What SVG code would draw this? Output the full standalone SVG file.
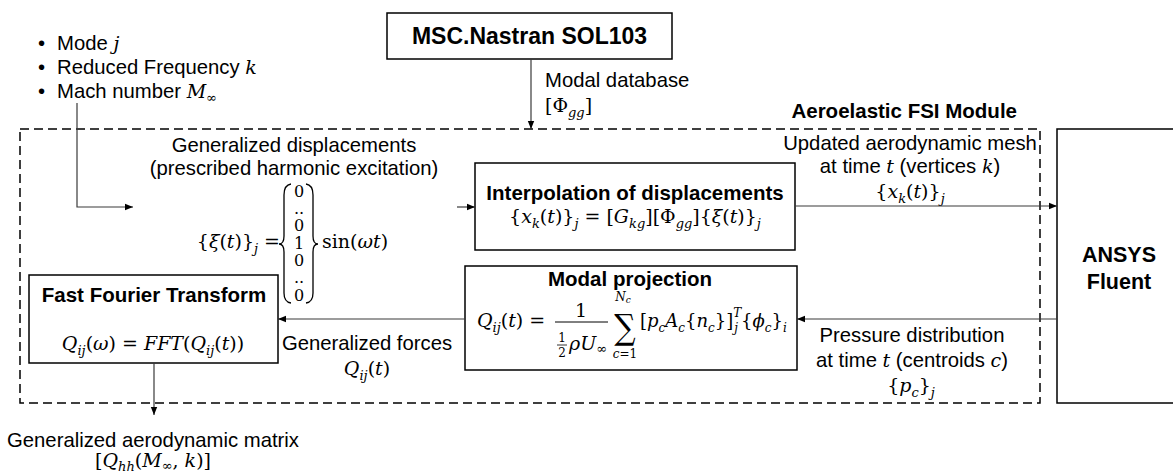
<svg xmlns="http://www.w3.org/2000/svg" width="1173" height="475" viewBox="0 0 1173 475">
<style>
.t{font-family:"Liberation Sans",Arial,sans-serif;font-size:20.3px;fill:#000}
.b{font-family:"Liberation Sans",Arial,sans-serif;font-size:20.5px;font-weight:bold;fill:#000}
.m{font-family:"DejaVu Serif","Liberation Serif",serif;font-size:19px;fill:#000}
.i{font-style:italic}
.s{font-size:13px;font-style:italic}
.box{fill:#fff;stroke:#000;stroke-width:1.5}
.c{fill:none;stroke:#3a3a3a;stroke-width:1.2}
.dl{fill:none;stroke:#000;stroke-width:1.3}
</style>
<defs>
<marker id="ah" viewBox="0 0 10 10" refX="10" refY="5" markerWidth="9" markerHeight="8" markerUnits="userSpaceOnUse" orient="auto"><path d="M0,1 L10,5 L0,9 z" fill="#000"/></marker>
</defs>
<rect width="1173" height="475" fill="#fff"/>

<g id="module">
<rect x="20" y="129" width="1020" height="274" fill="none" stroke="#000" stroke-width="1.5" stroke-dasharray="9 5"/>
<text class="b" x="1017" y="118" text-anchor="end">Aeroelastic FSI Module</text>
</g>

<g id="inputs">
<text class="t" x="38" y="50">•</text><text class="t" x="57" y="50">Mode <tspan class="m i">j</tspan></text>
<text class="t" x="38" y="74">•</text><text class="t" x="57" y="74">Reduced Frequency <tspan class="m i">k</tspan></text>
<text class="t" x="38" y="98">•</text><text class="t" x="57" y="98">Mach number <tspan class="m i">M</tspan><tspan class="m" style="font-size:13px" dy="4">∞</tspan></text>
</g>

<g id="nastran">
<rect class="box" x="387" y="13" width="285" height="46"/>
<text class="b" x="529.5" y="44" text-anchor="middle" style="font-size:23px">MSC.Nastran SOL103</text>
</g>

<g id="fluent">
<rect class="box" x="1057" y="129" width="130" height="274"/>
<text class="b" x="1119" y="262" text-anchor="middle" style="font-size:21.5px">ANSYS</text>
<text class="b" x="1119" y="289" text-anchor="middle" style="font-size:21.5px">Fluent</text>
</g>

<g id="displacements">
<text class="t" x="294" y="152" text-anchor="middle">Generalized displacements</text>
<text class="t" x="294" y="175" text-anchor="middle">(prescribed harmonic excitation)</text>
<text class="m" x="280" y="248" text-anchor="end">{<tspan class="i">ξ</tspan>(<tspan class="i">t</tspan>)}<tspan class="s" dy="5">j</tspan><tspan dy="-5"> =</tspan></text>
<path class="dl" d="M291,184 Q284,185 284,195 L284,236 Q284,244 279,244 Q284,244 284,252 L284,293 Q284,302 291,303"/>
<path class="dl" d="M306,184 Q313,185 313,195 L313,236 Q313,244 318,244 Q313,244 313,252 L313,293 Q313,302 306,303"/>
<g class="m" text-anchor="middle" style="font-size:16px">
<text x="299" y="197">0</text>
<text x="299" y="214">..</text>
<text x="299" y="231">0</text>
<text x="299" y="249">1</text>
<text x="299" y="266">0</text>
<text x="299" y="283">..</text>
<text x="299" y="301">0</text>
</g>
<text class="m" x="322" y="248">sin(<tspan class="i">ωt</tspan>)</text>
</g>

<g id="interpolation">
<rect class="box" x="475" y="163" width="320" height="87"/>
<text class="b" x="635" y="200" text-anchor="middle">Interpolation of displacements</text>
<text class="m" x="635" y="223" text-anchor="middle">{<tspan class="i">x</tspan><tspan class="s" dy="5">k</tspan><tspan dy="-5">(</tspan><tspan class="i">t</tspan>)}<tspan class="s" dy="5">j</tspan><tspan dy="-5"> = [</tspan><tspan class="i">G</tspan><tspan class="s" dy="5">kg</tspan><tspan dy="-5">][Φ</tspan><tspan class="s" dy="5">gg</tspan><tspan dy="-5">]{</tspan><tspan class="i">ξ</tspan>(<tspan class="i">t</tspan>)}<tspan class="s" dy="5">j</tspan></text>
</g>

<g id="mesh-label">
<text class="t" x="910" y="150" text-anchor="middle">Updated aerodynamic mesh</text>
<text class="t" x="910" y="173" text-anchor="middle">at time <tspan class="m i">t</tspan> (vertices <tspan class="m i">k</tspan>)</text>
<text class="m" x="910" y="198" text-anchor="middle">{<tspan class="i">x</tspan><tspan class="s" dy="5">k</tspan><tspan dy="-5">(</tspan><tspan class="i">t</tspan>)}<tspan class="s" dy="5">j</tspan></text>
</g>

<g id="modal-database">
<text class="t" x="545" y="87">Modal database</text>
<text class="m" x="545" y="112">[Φ<tspan class="s" dy="5">gg</tspan><tspan dy="-5">]</tspan></text>
</g>

<g id="modal-projection">
<rect class="box" x="465" y="266" width="332" height="104"/>
<text class="b" x="630" y="286" text-anchor="middle">Modal projection</text>
<text class="m" x="477" y="327"><tspan class="i">Q</tspan><tspan class="s" dy="5">ij</tspan><tspan dy="-5">(</tspan><tspan class="i">t</tspan>) =</text>
<text class="m" x="581" y="317" text-anchor="middle">1</text>
<line x1="555" y1="322" x2="608" y2="322" stroke="#000" stroke-width="1"/>
<text class="m" x="562" y="342" text-anchor="middle" style="font-size:12px">1</text>
<line x1="557" y1="345" x2="567" y2="345" stroke="#000" stroke-width="0.8"/>
<text class="m" x="562" y="357" text-anchor="middle" style="font-size:12px">2</text>
<text class="m" x="569" y="350"><tspan class="i">ρU</tspan><tspan style="font-size:13px" dy="3">∞</tspan></text>
<text class="m" transform="translate(625,339) scale(1,1.15)" text-anchor="middle" style="font-size:30px">∑</text>
<text class="m" x="623" y="301" text-anchor="middle" style="font-size:12px"><tspan class="i">N</tspan><tspan style="font-size:9px;font-style:italic" dy="2">c</tspan></text>
<text class="m" x="625" y="358" text-anchor="middle" style="font-size:12px"><tspan class="i">c</tspan>=1</text>
<text class="m" x="640" y="327" style="font-size:18px">[<tspan class="i">p</tspan><tspan class="s" style="font-size:12px" dy="5">c</tspan><tspan class="i" dy="-5">A</tspan><tspan class="s" style="font-size:12px" dy="5">c</tspan><tspan dy="-5">{</tspan><tspan class="i">n</tspan><tspan class="s" style="font-size:12px" dy="5">c</tspan><tspan dy="-5">}]</tspan><tspan class="i" style="font-size:12px" dy="-10">T</tspan><tspan class="i" style="font-size:12px" dx="-7" dy="15">j</tspan><tspan dy="-5" dx="3">{</tspan><tspan class="i">ϕ</tspan><tspan class="s" style="font-size:12px" dy="5">c</tspan><tspan dy="-5">}</tspan><tspan class="s" style="font-size:12px" dy="5">i</tspan></text>
</g>

<g id="pressure-label">
<text class="t" x="912" y="342" text-anchor="middle">Pressure distribution</text>
<text class="t" x="912" y="367" text-anchor="middle">at time <tspan class="m i">t</tspan> (centroids <tspan class="m i">c</tspan>)</text>
<text class="m" x="911" y="392" text-anchor="middle">{<tspan class="i">p</tspan><tspan class="s" dy="5">c</tspan><tspan dy="-5">}</tspan><tspan class="s" dy="5">j</tspan></text>
</g>

<g id="forces-label">
<text class="t" x="367" y="350" text-anchor="middle">Generalized forces</text>
<text class="m" x="367" y="375" text-anchor="middle"><tspan class="i">Q</tspan><tspan class="s" dy="5">ij</tspan><tspan dy="-5">(</tspan><tspan class="i">t</tspan>)</text>
</g>

<g id="fft">
<rect class="box" x="29" y="275" width="249" height="88"/>
<text class="b" x="154" y="302" text-anchor="middle">Fast Fourier Transform</text>
<text class="m" x="153" y="350" text-anchor="middle"><tspan class="i">Q</tspan><tspan class="s" dy="5">ij</tspan><tspan dy="-5">(</tspan><tspan class="i">ω</tspan>) = <tspan class="i">FFT</tspan>(<tspan class="i">Q</tspan><tspan class="s" dy="5">ij</tspan><tspan dy="-5">(</tspan><tspan class="i">t</tspan>))</text>
</g>

<g id="output">
<text class="t" x="153" y="447" text-anchor="middle">Generalized aerodynamic matrix</text>
<text class="m" x="153" y="467" text-anchor="middle">[<tspan class="i">Q</tspan><tspan class="s" dy="4">hh</tspan><tspan dy="-4">(</tspan><tspan class="i">M</tspan><tspan style="font-size:13px" dy="3">∞</tspan><tspan dy="-3">, </tspan><tspan class="i">k</tspan>)]</text>
</g>

<g id="connectors">
<polyline class="c" points="77,103 77,207 133,207" marker-end="url(#ah)"/>
<line class="c" x1="531" y1="59" x2="531" y2="129" marker-end="url(#ah)"/>
<line class="c" x1="457" y1="207" x2="475" y2="207" marker-end="url(#ah)"/>
<line class="c" x1="795" y1="206" x2="1057" y2="206" marker-end="url(#ah)"/>
<line class="c" x1="1057" y1="319" x2="797" y2="319" marker-end="url(#ah)"/>
<line class="c" x1="465" y1="319" x2="278" y2="319" marker-end="url(#ah)"/>
<line class="c" x1="154" y1="363" x2="154" y2="415" marker-end="url(#ah)"/>
</g>
</svg>
